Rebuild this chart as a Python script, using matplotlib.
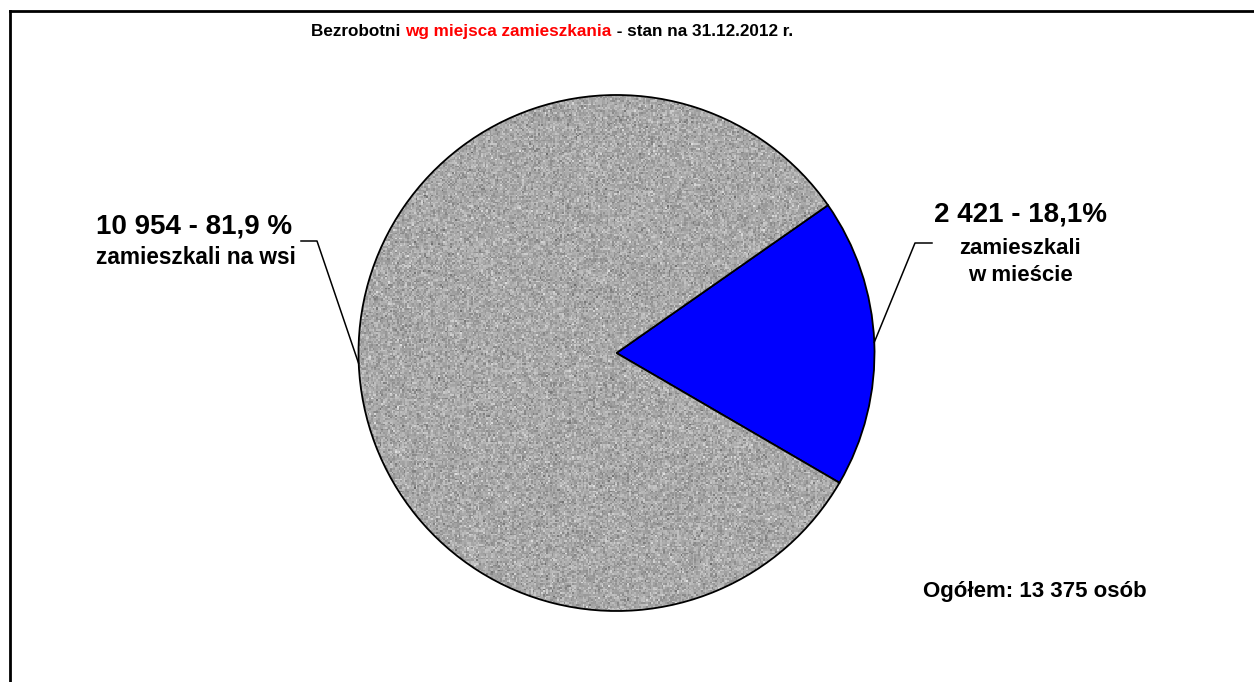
import numpy as np
import matplotlib
matplotlib.use("Agg")
import matplotlib.pyplot as plt
from matplotlib.lines import Line2D

plt.rcParams['font.family'] = ['Liberation Sans', 'DejaVu Sans']

labels = ["zamieszkali\nw mieście", "zamieszkali na wsi"]
values = [2421, 10954]
shares = ["18,1%", "81,9 %"]
total = 13375
colors = ["#0000ff", "#a6a6a6"]
title_parts = [("Bezrobotni ", "black"), ("wg miejsca zamieszkania", "#ff0000"),
               (" - stan na 31.12.2012 r.", "black")]

W, H = 1254, 682
fig = plt.figure(figsize=(W / 100, H / 100), dpi=100)
ax = fig.add_axes([0, 0, 1, 1])

cx, cy, r = 616.5, H - 353, 258
start = -30.2
wedges, _ = ax.pie(values, colors=colors, startangle=start, counterclock=True,
                   center=(cx, cy), radius=r, frame=True,
                   wedgeprops=dict(edgecolor='black', linewidth=1.3))
ax.set_xlim(0, W)
ax.set_ylim(0, H)
ax.axis('off')

# grainy texture on the grey slice
rng = np.random.default_rng(3)
noise = 0.66 + 0.07 * rng.standard_normal((300, 300))
noise = np.clip(noise, 0.4, 0.88)
im = ax.imshow(noise, cmap='gray', vmin=0, vmax=1, interpolation='nearest',
               extent=(cx - r, cx + r, cy - r, cy + r), zorder=1)
im.set_clip_path(wedges[1])
wedges[1].set_facecolor('none')
wedges[1].set_zorder(2)

# title in three colours
fig.canvas.draw()
rend = fig.canvas.get_renderer()
tsize = 12.3


def text_width(s):
    # width of s including trailing spaces (pad with a marker)
    a = ax.text(0, 0, s + "|", fontsize=tsize, fontweight='bold')
    b = ax.text(0, 0, "|", fontsize=tsize, fontweight='bold')
    w = a.get_window_extent(rend).width - b.get_window_extent(rend).width
    a.remove()
    b.remove()
    return w


widths = [text_width(s) for s, _ in title_parts]
x0 = 552 - sum(widths) / 2
for (s, c), w in zip(title_parts, widths):
    ax.text(x0, H - 36, s, fontsize=tsize, fontweight='bold', va='baseline', color=c)
    x0 += w


def edge_point(w):
    a = np.deg2rad((w.theta1 + w.theta2) / 2)
    return cx + r * np.cos(a), cy + r * np.sin(a)


def fmt(v):
    return f"{v:,}".replace(",", " ")


# right (city)
ex, ey = edge_point(wedges[0])
ax.plot([932, 915, ex], [H - 243, H - 243, ey], color='black', lw=1.1)
ax.text(1020, H - 215, fmt(values[0]) + " - " + shares[0],
        fontsize=20, fontweight='bold', ha='center', va='center')
ax.text(1020, H - 262, labels[0], fontsize=16, fontweight='bold', ha='center',
        va='center', linespacing=1.35)

# left (village)
ex, ey = edge_point(wedges[1])
ax.plot([301, 317, ex], [H - 241, H - 241, ey], color='black', lw=1.1)
ax.text(194, H - 227, fmt(values[1]) + " - " + shares[1],
        fontsize=20, fontweight='bold', ha='center', va='center')
ax.text(196, H - 258, labels[1], fontsize=16.3, fontweight='bold', ha='center',
        va='center')

ax.text(1035, H - 592, "Ogółem: " + fmt(total) + " osób",
        fontsize=16, fontweight='bold', ha='center', va='center')

# frame
fig.add_artist(Line2D([9.5 / W, 9.5 / W], [0, 1 - 10.5 / H], color='black', lw=2,
                      transform=fig.transFigure))
fig.add_artist(Line2D([9.5 / W, 1], [1 - 10.5 / H, 1 - 10.5 / H], color='black', lw=2,
                      transform=fig.transFigure))

fig.savefig("out.png", dpi=100, facecolor='white')
